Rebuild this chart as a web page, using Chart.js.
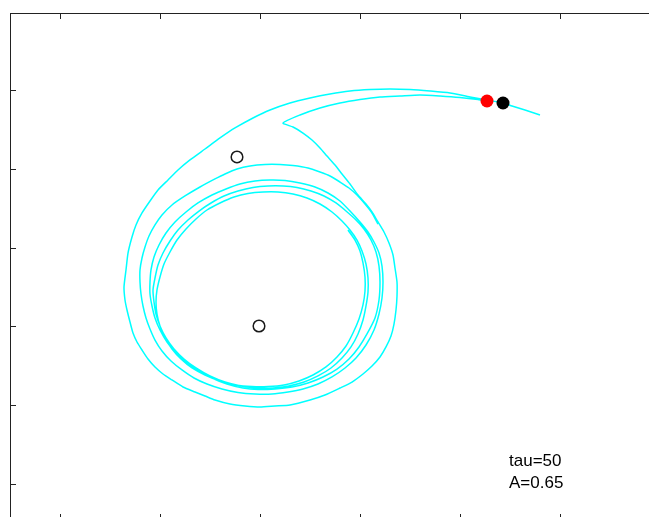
<!DOCTYPE html>
<html>
<head>
<meta charset="utf-8">
<script src="https://cdn.jsdelivr.net/npm/chart.js@4/dist/chart.umd.min.js"></script>
<style>
html,body{margin:0;padding:0;background:#fff;overflow:hidden;}
canvas{display:block;}
</style>
</head>
<body>
<canvas id="plot" width="700" height="540"></canvas>
<script>
/* ===== Data ===== */
const xTicks = [1,2,3,4,5,6,7];
const yTicks = [1,2,3,4,5,6];

// outer transient: tail -> big loop -> cusp -> back to the start point
const outerX = [5.80,5.65,5.52,5.43,5.27,5.10,4.90,4.70,4.50,4.30,
  4.10,3.90,3.70,3.50,3.30,3.10,2.93,2.75,2.60,2.45,
  2.30,2.18,2.08,1.98,1.90,1.82,1.76,1.72,1.68,1.66,
  1.64,1.65,1.67,1.70,1.73,1.77,1.82,1.88,1.95,2.03,
  2.12,2.23,2.35,2.45,2.55,2.70,2.85,3.00,3.15,3.30,
  3.50,3.65,3.80,3.92,4.03,4.12,4.20,4.26,4.31,4.34,
  4.36,4.37,4.37,4.35,4.33,4.29,4.24,4.18,4.12,4.06,
  3.98,3.90,3.82,3.75,3.67,3.60,3.52,3.43,3.33,3.23,
  3.40,3.60,3.80,4.00,4.20,4.40,4.60,4.80,5.00,5.18,5.27];
const outerY = [5.683,5.746,5.797,5.835,5.873,5.911,5.962,5.987,6.006,6.013,
  6.006,5.987,5.949,5.898,5.835,5.746,5.645,5.518,5.391,5.251,
  5.112,4.985,4.858,4.731,4.591,4.439,4.287,4.135,3.931,3.716,
  3.500,3.335,3.208,3.056,2.916,2.802,2.700,2.586,2.485,2.396,
  2.320,2.231,2.168,2.117,2.066,2.015,1.990,1.977,1.990,2.003,
  2.066,2.129,2.218,2.294,2.396,2.497,2.612,2.739,2.878,3.030,
  3.208,3.383,3.563,3.741,3.906,4.058,4.198,4.325,4.452,4.553,
  4.667,4.807,4.934,5.048,5.162,5.264,5.365,5.454,5.530,5.581,
  5.683,5.772,5.835,5.879,5.911,5.924,5.937,5.924,5.905,5.879,5.860];

// inner loops, settling onto the cycle
const loopBX = [4.18,4.12,4.05,3.97,3.89,3.80,3.70,3.60,3.48,3.33,
  3.20,3.05,2.90,2.77,2.65,2.55,2.40,2.25,2.12,2.02,
  1.95,1.89,1.85,1.82,1.80,1.80,1.81,1.83,1.86,1.90,
  1.95,2.02,2.11,2.22,2.34,2.47,2.62,2.78,2.95,3.12,
  3.28,3.43,3.58,3.72,3.85,3.96,4.06,4.14,4.19,4.22,
  4.23,4.22,4.19,4.14,4.08];
const loopBY = [4.299,4.439,4.553,4.667,4.756,4.832,4.909,4.959,5.010,5.042,
  5.055,5.055,5.036,4.997,4.934,4.871,4.769,4.655,4.541,4.414,
  4.287,4.147,4.008,3.868,3.716,3.563,3.411,3.259,3.107,2.967,
  2.827,2.688,2.561,2.447,2.345,2.269,2.206,2.161,2.142,2.142,
  2.168,2.206,2.269,2.358,2.472,2.599,2.764,2.954,3.157,3.360,
  3.563,3.766,3.931,4.071,4.198];
const loopCX = [4.00,3.90,3.80,3.68,3.55,3.40,3.25,3.10,2.95,2.80,
  2.66,2.52,2.38,2.26,2.15,2.06,1.99,1.94,1.91,1.90,
  1.90,1.92,1.95,2.00,2.07,2.16,2.26,2.38,2.52,2.67,
  2.83,2.98,3.15,3.32,3.48,3.63,3.77,3.89,3.99,4.07,
  4.15,4.19,4.20,4.19,4.16,4.11,4.04,3.96];
const loopCY = [4.325,4.464,4.591,4.693,4.769,4.820,4.852,4.858,4.845,4.807,
  4.744,4.667,4.566,4.452,4.325,4.185,4.033,3.881,3.716,3.563,
  3.411,3.259,3.107,2.954,2.802,2.662,2.548,2.447,2.345,2.269,
  2.218,2.199,2.206,2.231,2.282,2.358,2.459,2.586,2.739,2.904,
  3.107,3.335,3.563,3.766,3.944,4.096,4.236,4.350];
const loopDX = [3.86,3.76,3.64,3.51,3.37,3.23,3.08,2.93,2.78,2.64,
  2.51,2.39,2.28,2.18,2.10,2.03,1.98,1.95,1.93,1.94,
  1.96,2.00,2.06,2.14,2.24,2.36,2.50,2.65,2.81,2.97,
  3.13,3.29,3.44,3.58,3.71,3.82,3.91,3.98,4.03,4.06,
  4.08,4.08,4.06,4.02,3.97,3.90,3.82];
const loopDY = [4.464,4.566,4.655,4.718,4.763,4.782,4.782,4.763,4.718,4.655,
  4.566,4.464,4.350,4.223,4.084,3.931,3.779,3.614,3.462,3.310,
  3.157,3.005,2.853,2.713,2.586,2.472,2.371,2.294,2.244,2.218,
  2.218,2.244,2.294,2.371,2.472,2.599,2.739,2.904,3.081,3.259,
  3.437,3.614,3.792,3.957,4.096,4.223,4.338];
const loopEX = [3.72,3.60,3.47,3.33,3.18,3.03,2.88,2.74,2.60,2.47,
  2.36,2.26,2.17,2.10,2.04,2.00,1.97,1.96,1.97,2.00,
  2.05,2.12,2.21,2.32,2.45,2.60,2.76,2.92,3.08,3.24,
  3.39,3.53,3.66,3.77,3.86,3.93,3.99,4.03,4.05,4.05,
  4.03,4.00,3.95,3.88];
const loopEY = [4.452,4.553,4.629,4.680,4.706,4.706,4.687,4.642,4.566,4.477,
  4.363,4.236,4.096,3.944,3.792,3.627,3.462,3.310,3.157,3.005,
  2.853,2.713,2.586,2.472,2.383,2.307,2.256,2.237,2.237,2.256,
  2.307,2.383,2.485,2.612,2.751,2.916,3.094,3.272,3.449,3.627,
  3.805,3.957,4.096,4.223];

// fixed points (open) and the two start points (filled)
const fixedX = [2.77,2.99];
const fixedY = [5.150,3.005];
const startRed = {x:5.27,y:5.860};
const startBlack = {x:5.43,y:5.835};

const notes = ["tau=50","A=0.65"];
const noteX = 5.49;
const noteY = [1.228,0.949];

/* ===== Helpers ===== */
const toPts = (xs,ys)=>xs.map((x,i)=>({x,y:ys[i]}));
const spiral = [
  ...toPts(loopBX,loopBY), ...toPts(loopCX,loopCY),
  ...toPts(loopDX,loopDY), ...toPts(loopEX,loopEY)
];
const TICK = 6;

/* ===== Axes box + inward ticks + text ===== */
const axesBox = {
  id:"axesBox",
  afterDraw(chart){
    const {ctx, chartArea:a, scales:{x,y}} = chart;
    ctx.save();
    ctx.strokeStyle = "#222";
    ctx.lineWidth = 1;
    ctx.strokeRect(a.left+0.5, a.top+0.5, a.right-a.left, a.bottom-a.top);
    ctx.beginPath();
    xTicks.forEach(v=>{
      const px = Math.round(x.getPixelForValue(v))+0.5;
      ctx.moveTo(px,a.top); ctx.lineTo(px,a.top+TICK);
      ctx.moveTo(px,a.bottom); ctx.lineTo(px,a.bottom-TICK);
    });
    yTicks.forEach(v=>{
      const py = Math.round(y.getPixelForValue(v))+0.5;
      ctx.moveTo(a.left,py); ctx.lineTo(a.left+TICK,py);
      ctx.moveTo(a.right,py); ctx.lineTo(a.right-TICK,py);
    });
    ctx.stroke();

    ctx.fillStyle = "#000";
    ctx.font = "17px 'Liberation Sans', Arial, sans-serif";
    ctx.textBaseline = "alphabetic";
    notes.forEach((t,i)=>ctx.fillText(t, x.getPixelForValue(noteX), y.getPixelForValue(noteY[i])));
    ctx.restore();
  }
};

/* ===== Chart ===== */
const lineStyle = {showLine:true, pointRadius:0, borderColor:"#00ffff", borderWidth:1.5, tension:0.2, fill:false};

new Chart(document.getElementById("plot"),{
  type:"scatter",
  data:{datasets:[
    {data:[startBlack], pointRadius:6.5, backgroundColor:"#000", borderColor:"#000", borderWidth:0},
    {data:[startRed], pointRadius:6.5, backgroundColor:"#ff0000", borderColor:"#ff0000", borderWidth:0},
    {data:toPts(fixedX,fixedY), pointRadius:5.8, backgroundColor:"rgba(0,0,0,0)", borderColor:"#1a1a1a", borderWidth:1.5},
    {data:toPts(outerX,outerY), ...lineStyle},
    {data:spiral, ...lineStyle}
  ]},
  options:{
    responsive:false,
    animation:false,
    events:[],
    layout:{padding:{left:10,top:13,right:10,bottom:20}},
    plugins:{legend:{display:false}, tooltip:{enabled:false}},
    scales:{
      x:{type:"linear", min:0.5, max:7.3, display:false},
      y:{type:"linear", min:0.543, max:6.977, display:false}
    }
  },
  plugins:[axesBox]
});
</script>
</body>
</html>
